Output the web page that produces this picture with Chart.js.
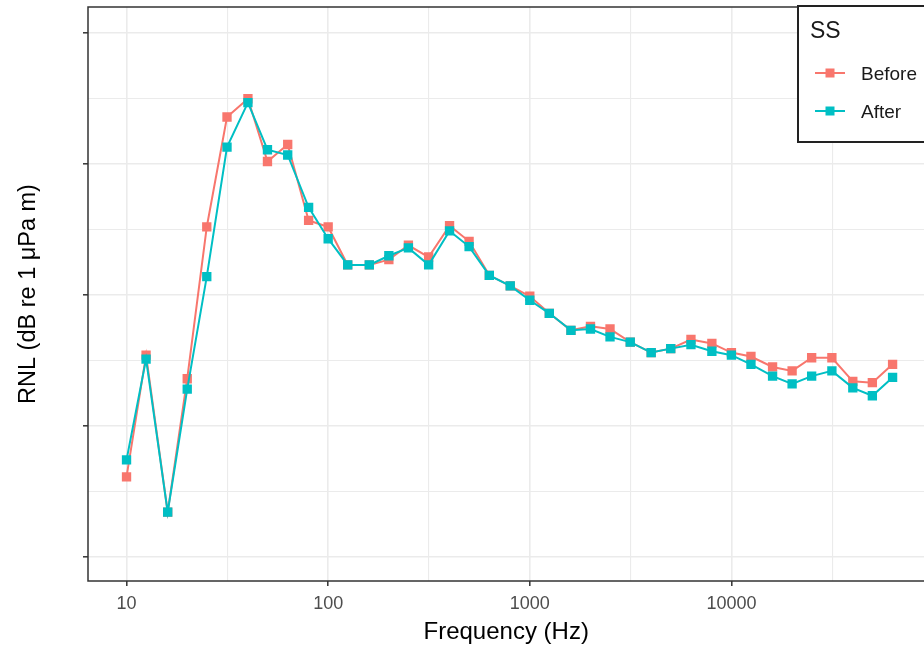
<!DOCTYPE html>
<html>
<head>
<meta charset="utf-8">
<script src="https://cdn.jsdelivr.net/npm/chart.js@4"></script>
<style>
  body { margin: 0; background: #fff; overflow: hidden; width: 924px; height: 647px; }
  #wrap { width: 931px; height: 647px; position: relative; }
</style>
</head>
<body>
<div id="wrap"><canvas id="myChart"></canvas></div>
<script>
// one-third octave band centre frequencies (Hz)
const freqs = [10, 12.5, 16, 20, 25, 31.5, 40, 50, 63, 80, 100, 125, 160, 200, 250, 315, 400, 500, 630, 800,
    1000, 1250, 1600, 2000, 2500, 3150, 4000, 5000, 6300, 8000, 10000, 12500, 16000, 20000, 25000, 31500, 40000, 50000, 63000];

const before = [66.1, 75.4, 63.4, 73.6, 85.2, 93.6, 95.0, 90.2, 91.5, 85.7, 85.2, 82.3, 82.3, 82.7, 83.8, 82.9, 85.3, 84.1, 81.5, 80.7,
    79.9, 78.6, 77.3, 77.6, 77.4, 76.4, 75.6, 75.9, 76.6, 76.3, 75.6, 75.3, 74.5, 74.2, 75.2, 75.2, 73.4, 73.3, 74.7];

const after = [67.4, 75.1, 63.4, 72.8, 81.4, 91.3, 94.7, 91.1, 90.7, 86.7, 84.3, 82.3, 82.3, 83.0, 83.6, 82.3, 84.9, 83.7, 81.5, 80.7,
    79.6, 78.6, 77.3, 77.4, 76.8, 76.4, 75.6, 75.9, 76.2, 75.7, 75.4, 74.7, 73.8, 73.2, 73.8, 74.2, 72.9, 72.3, 73.7];

// axis breaks (majors labelled on x, minors only gridlines)
const xBreaks = [10, 31.62, 100, 316.2, 1000, 3162, 10000, 31623];
const yBreaks = [60, 65, 70, 75, 80, 85, 90, 95, 100];

const seriesNames = ["Before", "After"];
const seriesColors = ["#F8766D", "#00BFC4"];
const legendTitle = "SS";

const FONT = "'Liberation Sans', Arial, sans-serif";

function toPoints(vals) {
    return freqs.map((f, i) => ({ x: f, y: vals[i] }));
}

function isMajorX(v) {
    const l = Math.log10(v);
    return Math.abs(l - Math.round(l)) < 1e-6;
}

const panelBorder = {
    id: 'panelBorder',
    afterDatasetsDraw(chart) {
        const { ctx, chartArea: a } = chart;
        ctx.save();
        ctx.strokeStyle = '#333333';
        ctx.lineWidth = 1.5;
        ctx.strokeRect(a.left, a.top, a.right - a.left + 20, a.bottom - a.top);
        ctx.restore();
    }
};

const boxLegend = {
    id: 'boxLegend',
    afterDraw(chart) {
        const ctx = chart.ctx;
        ctx.save();
        ctx.fillStyle = '#fff';
        ctx.fillRect(798, 6, 140, 136);
        ctx.strokeStyle = '#222';
        ctx.lineWidth = 2;
        ctx.strokeRect(798, 6, 140, 136);

        ctx.fillStyle = '#1a1a1a';
        ctx.textBaseline = 'middle';
        ctx.textAlign = 'left';
        ctx.font = '23px ' + FONT;
        ctx.fillText(legendTitle, 810, 32);

        const rows = [73, 111];
        chart.data.datasets.forEach((ds, i) => {
            const y = rows[i];
            ctx.strokeStyle = ds.borderColor;
            ctx.lineWidth = 2;
            ctx.beginPath();
            ctx.moveTo(815, y);
            ctx.lineTo(845, y);
            ctx.stroke();
            ctx.fillStyle = ds.borderColor;
            ctx.fillRect(830 - 4.5, y - 4.5, 9, 9);
            ctx.fillStyle = '#1a1a1a';
            ctx.font = '19px ' + FONT;
            ctx.fillText(ds.label, 861, y + 1.5);
        });
        ctx.restore();
    }
};

new Chart("myChart", {
    type: "line",
    data: {
        datasets: [
            {
                label: seriesNames[0],
                data: toPoints(before),
                borderColor: seriesColors[0],
                backgroundColor: seriesColors[0],
                borderWidth: 2,
                pointStyle: 'rect',
                pointRadius: 6.6,
                pointBorderWidth: 0,
                tension: 0,
                order: 1
            },
            {
                label: seriesNames[1],
                data: toPoints(after),
                borderColor: seriesColors[1],
                backgroundColor: seriesColors[1],
                borderWidth: 2,
                pointStyle: 'rect',
                pointRadius: 6.6,
                pointBorderWidth: 0,
                tension: 0,
                order: 0
            }
        ]
    },
    options: {
        responsive: true,
        maintainAspectRatio: false,
        animation: false,
        layout: { padding: { top: 7, left: 0, right: 0, bottom: 0 } },
        plugins: {
            legend: { display: false },
            tooltip: { enabled: false }
        },
        scales: {
            x: {
                type: 'logarithmic',
                min: 6.44,
                max: 90600,
                afterBuildTicks: (scale) => {
                    scale.ticks = xBreaks.map(v => ({ value: v }));
                },
                afterFit: (scale) => {
                    scale.height = 66;
                    scale.paddingLeft = 0;
                    scale.paddingRight = 0;
                },
                border: { display: false },
                grid: {
                    color: '#EBEBEB',
                    lineWidth: (c) => (c.tick && isMajorX(c.tick.value)) ? 1.6 : 1.1,
                    drawTicks: true,
                    tickLength: 5,
                    tickWidth: 1.5,
                    tickColor: (c) => (c.tick && isMajorX(c.tick.value)) ? '#333333' : 'rgba(0,0,0,0)'
                },
                ticks: {
                    autoSkip: false,
                    maxRotation: 0,
                    padding: 7,
                    color: '#4D4D4D',
                    font: { family: FONT, size: 18 },
                    callback: function (value) {
                        return isMajorX(value) ? String(Math.round(value)) : '';
                    }
                },
                title: {
                    display: true,
                    text: 'Frequency (Hz)',
                    color: '#000',
                    font: { family: FONT, size: 24 },
                    padding: { top: 0, bottom: 0 }
                }
            },
            y: {
                type: 'linear',
                min: 58.14,
                max: 102.01,
                afterBuildTicks: (scale) => {
                    scale.ticks = yBreaks.map(v => ({ value: v }));
                },
                afterFit: (scale) => { scale.width = 88; },
                border: { display: false },
                grid: {
                    color: '#EBEBEB',
                    lineWidth: (c) => (c.tick && c.tick.value % 10 === 0) ? 1.6 : 1.1,
                    drawTicks: true,
                    tickLength: 5,
                    tickWidth: 1.5,
                    tickColor: (c) => (c.tick && c.tick.value % 10 === 0) ? '#333333' : 'rgba(0,0,0,0)'
                },
                ticks: {
                    display: false
                },
                title: {
                    display: true,
                    text: 'RNL (dB re 1 μPa m)',
                    color: '#000',
                    font: { family: FONT, size: 23.5 },
                    padding: { top: 14, bottom: 0 }
                }
            }
        }
    },
    plugins: [panelBorder, boxLegend]
});
</script>
</body>
</html>
